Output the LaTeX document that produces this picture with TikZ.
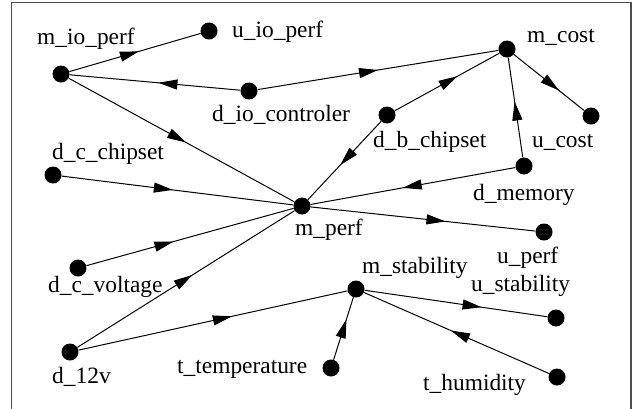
\documentclass[tikz,border=0pt]{standalone}
\usepackage{fontspec}
\setmainfont{Liberation Serif}
\newfontfamily\lbfont{Liberation Serif}
\usetikzlibrary{decorations.markings,arrows.meta}
\begin{document}
\begin{tikzpicture}[x=1pt,y=-1pt,
 dot/.style={circle,fill=black,inner sep=0pt,minimum size=17pt},
 lbl/.style={anchor=base west,inner sep=0pt,font=\lbfont\fontsize{23.4}{28}\selectfont},
 link/.style={line width=1pt,postaction={decorate},decoration={markings,mark=at position #1 with {\arrow{Triangle[length=19pt,width=10pt]}}}}]
\useasboundingbox (0,0) rectangle (634,408);
\draw[line width=1.5pt,color=black!70] (11.5,2.5) rectangle (631,414);
% dots
\node[dot] (mio) at (61,74) {};
\node[dot] (uio) at (209,31) {};
\node[dot] (dio) at (249,91) {};
\node[dot] (dcc) at (53,175) {};
\node[dot] (mperf) at (302,206) {};
\node[dot] (mcost) at (507,49) {};
\node[dot] (dbc) at (387,115) {};
\node[dot] (ucost) at (591,116) {};
\node[dot] (dmem) at (524,166) {};
\node[dot] (dcv) at (78,268) {};
\node[dot] (d12) at (70,352) {};
\node[dot] (uperf) at (544,232) {};
\node[dot] (mstab) at (356,289) {};
\node[dot] (ustab) at (556,318) {};
\node[dot] (ttemp) at (331,368) {};
\node[dot] (thum) at (557,377) {};
% labels
\node[lbl] (lmio) at (37,44) {m\_io\_perf};
\node[lbl] (luio) at (232,37) {u\_io\_perf};
\node[lbl] (ldio) at (212,121) {d\_io\_controler};
\node[lbl] (ldcc) at (52,159) {d\_c\_chipset};
\node[lbl] (lmcost) at (527,42) {m\_cost};
\node[lbl] (ldbc) at (373,147) {d\_b\_chipset};
\node[lbl] (lucost) at (532,147) {u\_cost};
\node[lbl] (ldmem) at (473,200) {d\_memory};
\node[lbl] (lmperf) at (295,235) {m\_perf};
\node[lbl] (ldcv) at (48,292) {d\_c\_voltage};
\node[lbl] (ld12) at (52,383) {d\_12v};
\node[lbl] (lttemp) at (177,373) {t\_temperature};
\node[lbl] (luperf) at (497,263) {u\_perf};
\node[lbl] (lmstab) at (362,273) {m\_stability};
\node[lbl] (lustab) at (471,291) {u\_stability};
\node[lbl] (lthum) at (423,390) {t\_humidity};
% edges
\draw[link=0.53] (mio) -- (uio);
\draw[link=0.48] (dio) -- (mio);
\draw[link=0.50] (dio) -- (mcost);
\draw[link=0.52] (mio) -- (mperf);
\draw[link=0.48] (dcc) -- (mperf);
\draw[link=0.60] (dbc) -- (mcost);
\draw[link=0.56] (dbc) -- (mperf);
\draw[link=0.64] (mcost) -- (ucost);
\draw[link=0.56] (dmem) -- (mcost);
\draw[link=0.55] (dmem) -- (mperf);
\draw[link=0.42] (dcv) -- (mperf);
\draw[link=0.53] (d12) -- (mperf);
\draw[link=0.57] (d12) -- (mstab);
\draw[link=0.60] (mperf) -- (uperf);
\draw[link=0.65] (ttemp) -- (mstab);
\draw[link=0.64] (mstab) -- (ustab);
\draw[link=0.53] (thum) -- (mstab);
\end{tikzpicture}
\end{document}
